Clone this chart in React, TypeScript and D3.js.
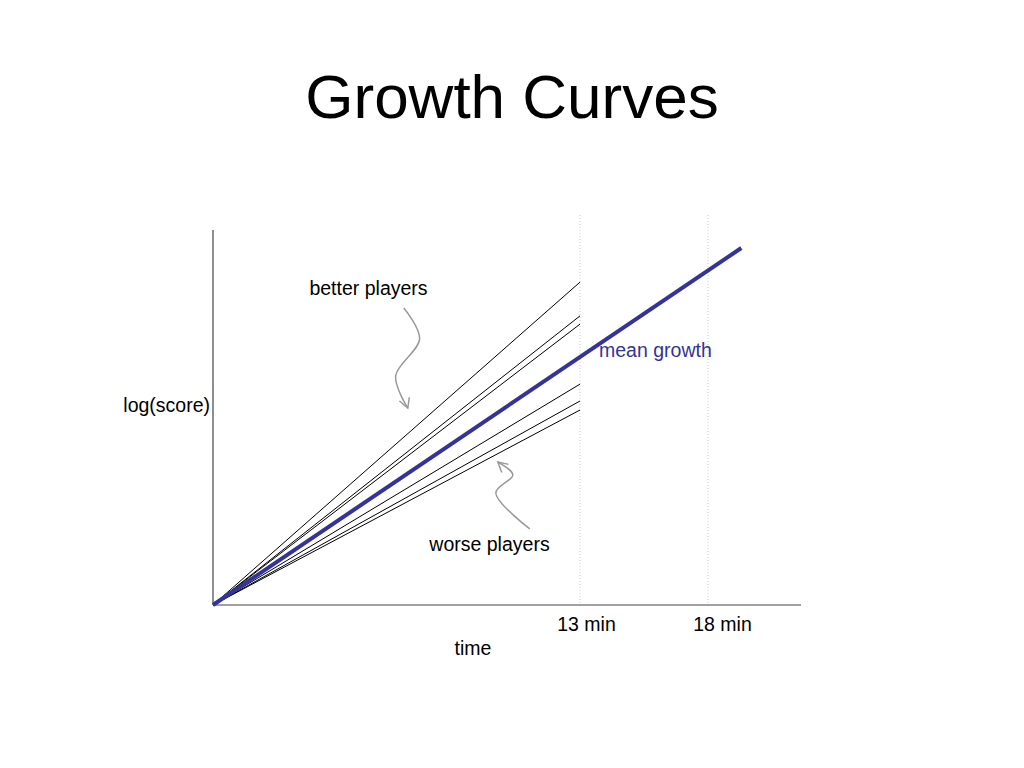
import React from "react";
import * as d3 from "d3";

const W = 1024;
const H = 768;

// time ticks (schematic, minutes)
const timeTicks = [13, 18];
const timeTickLabels = ["13 min", "18 min"];
// individual player curves: log(score) at 13 min
const playerEnd = 13;
const playerValues = [86.1, 77.1, 74.9, 58.9, 54.4, 52.0];
// mean growth reaches this at its end time
const meanEndTime = 19.3;
const meanEndValue = 95.2;

// annotation arrow paths (in data units: [time, value])
const betterArrow: [number, number][] = [
  [6.76, 79.2],
  [7.32, 71.0],
  [6.47, 61.1],
  [6.9, 52.5],
];
const worseArrow: [number, number][] = [
  [11.22, 20.3],
  [10.02, 29.9],
  [10.62, 34.7],
  [10.09, 38.1],
];

export default function App() {
  const x = d3.scaleLinear().domain([0, 13, 18, 21.63]).range([213, 580, 708, 801]);
  const y = d3.scaleLinear().domain([0, 100]).range([605, 230]);

  const line = d3
    .line<[number, number]>()
    .x((d) => x(d[0]))
    .y((d) => y(d[1]));
  const curve = d3
    .line<[number, number]>()
    .x((d) => x(d[0]))
    .y((d) => y(d[1]))
    .curve(d3.curveCatmullRom.alpha(0.5));

  const arrowHead = (pts: [number, number][]) => {
    const n = pts.length;
    const tx = x(pts[n - 1][0]);
    const ty = y(pts[n - 1][1]);
    const px = x(pts[n - 2][0]);
    const py = y(pts[n - 2][1]);
    const ang = Math.atan2(ty - py, tx - px);
    const L = 11;
    const a1 = ang + Math.PI - 0.5;
    const a2 = ang + Math.PI + 0.5;
    return `M${tx + L * Math.cos(a1)},${ty + L * Math.sin(a1)}L${tx},${ty}L${tx + L * Math.cos(a2)},${ty + L * Math.sin(a2)}`;
  };

  const font = "'Liberation Sans', Arial, Helvetica, sans-serif";

  return (
    <svg
      width={W}
      height={H}
      style={{ position: "absolute", left: 0, top: 0, background: "#fff" }}
      fontFamily={font}
    >
      <text x={512} y={118} textAnchor="middle" fontSize={62} fill="#000">
        Growth Curves
      </text>

      {/* dotted time gridlines */}
      {timeTicks.map((t) => (
        <line
          key={t}
          x1={x(t)}
          x2={x(t)}
          y1={215}
          y2={y(0)}
          stroke="#c8c8c8"
          strokeWidth={1}
          strokeDasharray="1,2"
        />
      ))}

      {/* axes */}
      <line x1={x(0)} x2={x(0)} y1={y(100)} y2={y(0)} stroke="#444" strokeWidth={1.2} />
      <line x1={x(0)} x2={x(21.63)} y1={y(0)} y2={y(0)} stroke="#444" strokeWidth={1.2} />

      {/* player curves */}
      {playerValues.map((v, i) => (
        <path
          key={i}
          d={line([
            [0, 0],
            [playerEnd, v],
          ])!}
          stroke="#000"
          strokeWidth={1}
          fill="none"
        />
      ))}

      {/* mean growth */}
      <path
        d={line([
          [0, 0],
          [meanEndTime, meanEndValue],
        ])!}
        stroke="#333399"
        strokeWidth={4}
        fill="none"
      />

      {/* annotation arrows */}
      {[betterArrow, worseArrow].map((pts, i) => (
        <g key={i} stroke="#999" strokeWidth={1.5} fill="none">
          <path d={curve(pts)!} />
          <path d={arrowHead(pts)} />
        </g>
      ))}

      {/* labels */}
      <text x={368.5} y={295} textAnchor="middle" fontSize={19.5} fill="#000">
        better players
      </text>
      <text x={489.5} y={551} textAnchor="middle" fontSize={19.5} fill="#000">
        worse players
      </text>
      <text x={599} y={357} fontSize={19.5} fill="#333399">
        mean growth
      </text>
      <text x={210} y={412} textAnchor="end" fontSize={19.5} fill="#000">
        log(score)
      </text>
      <text x={473} y={655} textAnchor="middle" fontSize={19.5} fill="#000">
        time
      </text>
      {timeTicks.map((t, i) => (
        <text
          key={t}
          x={x(t) + (i === 0 ? 6.5 : 14.5)}
          y={631}
          textAnchor="middle"
          fontSize={19.5}
          fill="#000"
        >
          {timeTickLabels[i]}
        </text>
      ))}
    </svg>
  );
}
